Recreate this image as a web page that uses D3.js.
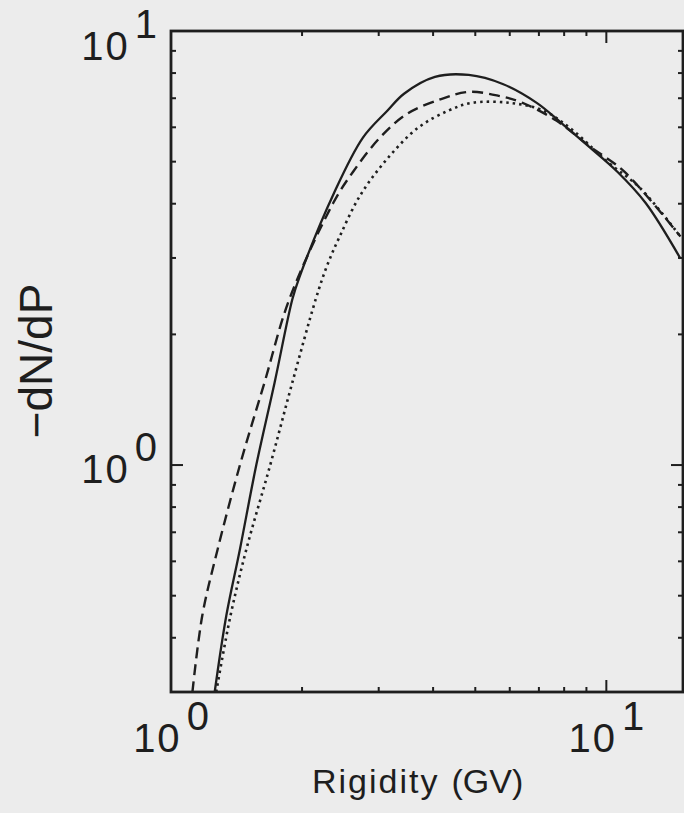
<!DOCTYPE html>
<html>
<head>
<meta charset="utf-8">
<script src="https://cdn.jsdelivr.net/npm/d3@7"></script>
<style>
  html, body { margin: 0; padding: 0; background: #ececec; }
  svg { display: block; }
  text { font-family: "Liberation Sans", Arial, sans-serif; fill: #1e1e1e; }
</style>
</head>
<body>
<main></main>
<script>
// rigidity P (GV) and -dN/dP for the three spectra
const solidP  = [1.26, 1.34, 1.44, 1.57, 1.73, 1.90, 1.97, 2.37, 2.76, 3.14, 3.43, 4.04, 4.83, 5.78, 6.92, 7.97, 9.19, 10.6, 12.3, 14.8];
const solidN  = [0.30, 0.45, 0.64, 1.00, 1.55, 2.41, 2.70, 4.24, 5.68, 6.55, 7.17, 7.84, 7.92, 7.55, 6.83, 6.08, 5.38, 4.74, 4.02, 2.99];
const dashedP = [1.12, 1.18, 1.28, 1.44, 1.64, 1.87, 2.36, 2.62, 3.02, 3.49, 4.19, 4.83, 5.66, 6.42, 7.69, 9.19, 11.0, 14.8];
const dashedN = [0.30, 0.45, 0.64, 1.00, 1.55, 2.41, 4.02, 4.74, 5.68, 6.45, 6.98, 7.24, 7.09, 6.83, 6.21, 5.41, 4.74, 3.36];
const dottedP = [1.27, 1.37, 1.49, 1.69, 1.90, 2.15, 2.28, 2.44, 2.72, 3.14, 3.69, 4.33, 4.91, 6.00, 7.18, 8.40, 10.05, 12.0, 14.8];
const dottedN = [0.30, 0.45, 0.64, 1.00, 1.55, 2.41, 2.87, 3.36, 4.18, 5.08, 5.98, 6.55, 6.83, 6.83, 6.55, 5.89, 5.00, 4.33, 3.36];

const xTicks = [2, 3, 4, 5, 6, 7, 8, 9, 10];
const yTicks = [0.4, 0.5, 0.6, 0.7, 0.8, 0.9, 1, 2, 3, 4, 5, 6, 7, 8, 9, 10];
const majors = [1, 10];

const w = 684, h = 813;
const ink = '#1e1e1e';
const svg = d3.select('main').append('svg').attr('width', w).attr('height', h);

const x = d3.scaleLog().domain([1, 15]).range([171, 683]);
const y = d3.scaleLog().domain([0.3, 10]).range([692, 31]);
const [x0, x1] = x.range();
const [y0, y1] = y.range();

svg.append('clipPath').attr('id', 'plot')
    .append('rect').attr('x', x0).attr('y', y1).attr('width', x1 - x0).attr('height', y0 - y1);

// curves
const line = d3.line()
    .x(d => x(d[0]))
    .y(d => y(d[1]))
    .curve(d3.curveCatmullRom.alpha(0.5));

const series = [
    { p: solidP, n: solidN, dash: null, sw: 2.3 },
    { p: dashedP, n: dashedN, dash: '11,6', sw: 2.4 },
    { p: dottedP, n: dottedN, dash: '2.5,4', sw: 2.6 }
];
svg.append('g').attr('clip-path', 'url(#plot)')
    .selectAll('path')
    .data(series)
    .enter()
    .append('path')
    .attr('d', s => line(d3.zip(s.p, s.n)))
    .attr('fill', 'none')
    .attr('stroke', ink)
    .attr('stroke-width', s => s.sw)
    .attr('stroke-dasharray', s => s.dash);

// frame
svg.append('rect')
    .attr('x', x0).attr('y', y1)
    .attr('width', x1 - x0).attr('height', y0 - y1)
    .attr('fill', 'none').attr('stroke', ink).attr('stroke-width', 2.8);

// inward ticks on all four sides
const tickLen = d => majors.includes(d) ? 12 : 5;
const ticks = svg.append('g').attr('stroke', ink).attr('stroke-width', 2);
ticks.selectAll('.tb').data(xTicks).enter().append('line')
    .attr('x1', d => x(d)).attr('x2', d => x(d))
    .attr('y1', y0).attr('y2', d => y0 - tickLen(d));
ticks.selectAll('.tt').data(xTicks).enter().append('line')
    .attr('x1', d => x(d)).attr('x2', d => x(d))
    .attr('y1', y1).attr('y2', d => y1 + tickLen(d));
ticks.selectAll('.tl').data(yTicks).enter().append('line')
    .attr('y1', d => y(d)).attr('y2', d => y(d))
    .attr('x1', x0).attr('x2', d => x0 + tickLen(d));
ticks.selectAll('.tr').data(yTicks).enter().append('line')
    .attr('y1', d => y(d)).attr('y2', d => y(d))
    .attr('x1', x1).attr('x2', d => x1 - tickLen(d));

// power-of-ten labels, exponent set at full size
function powLabel(g, anchor) {
    g.attr('font-size', 40).attr('text-anchor', anchor);
    g.append('tspan').attr('letter-spacing', 2).text('10');
    g.append('tspan').attr('dx', 5).attr('dy', -22).text(d => Math.round(Math.log10(d)));
}
svg.selectAll('.xl').data(majors).enter().append('text')
    .attr('x', d => x(d))
    .attr('y', 752)
    .call(powLabel, 'middle');
svg.selectAll('.yl').data(majors).enter().append('text')
    .attr('x', x0 - 14)
    .attr('y', d => Math.max(y(d) + 18, 60))
    .call(powLabel, 'end');

const xTitle = svg.append('text')
    .attr('x', 312).attr('y', 793)
    .attr('font-size', 34);
xTitle.append('tspan').attr('letter-spacing', 2).text('Rigidity');
xTitle.append('tspan').attr('dx', 12).text('(GV)');

svg.append('text')
    .attr('transform', 'translate(52,361) rotate(-90)')
    .attr('text-anchor', 'middle')
    .attr('font-size', 46)
    .text('\u2212dN/dP');
</script>
</body>
</html>
